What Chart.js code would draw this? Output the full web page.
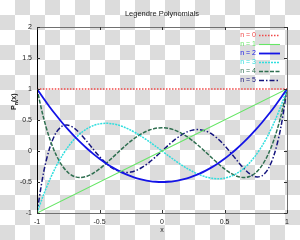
<!DOCTYPE html>
<html>
<head>
<meta charset="utf-8">
<script src="https://cdn.jsdelivr.net/npm/chart.js@4/dist/chart.umd.min.js"></script>
<style>
  html, body {
    margin: 0;
    padding: 0;
    width: 300px;
    height: 240px;
    overflow: hidden;
    background: repeating-conic-gradient(#dcdcdc 0 25%, #ffffff 0 50%) 0 0 / 30px 30px;
  }
  #chart { display: block; }
</style>
</head>
<body>
<canvas id="chart" width="300" height="240"></canvas>
<script>
// ---- data ----
const lineXs = [-1, 1];
const p0 = [1, 1];
const p1 = [-1, 1];

const curveXs = [
  -1, -0.95, -0.9, -0.85, -0.8, -0.75, -0.7, -0.65, -0.6, -0.55, -0.5,
  -0.45, -0.4, -0.35, -0.3, -0.25, -0.2, -0.15, -0.1, -0.05, 0,
  0.05, 0.1, 0.15, 0.2, 0.25, 0.3, 0.35, 0.4, 0.45, 0.5,
  0.55, 0.6, 0.65, 0.7, 0.75, 0.8, 0.85, 0.9, 0.95, 1
];
const p2 = [
  1, 0.854, 0.715, 0.584, 0.46, 0.344, 0.235, 0.134, 0.04, -0.046, -0.125,
  -0.196, -0.26, -0.316, -0.365, -0.406, -0.44, -0.466, -0.485, -0.496, -0.5,
  -0.496, -0.485, -0.466, -0.44, -0.406, -0.365, -0.316, -0.26, -0.196, -0.125,
  -0.046, 0.04, 0.134, 0.235, 0.344, 0.46, 0.584, 0.715, 0.854, 1
];
const p3 = [
  -1, -0.718, -0.473, -0.26, -0.08, 0.07, 0.193, 0.288, 0.36, 0.409, 0.438,
  0.447, 0.44, 0.418, 0.383, 0.336, 0.28, 0.217, 0.148, 0.075, 0,
  -0.075, -0.148, -0.217, -0.28, -0.336, -0.383, -0.418, -0.44, -0.447, -0.438,
  -0.409, -0.36, -0.288, -0.193, -0.07, 0.08, 0.26, 0.473, 0.718, 1
];
const p4 = [
  1, 0.554, 0.208, -0.051, -0.233, -0.35, -0.412, -0.428, -0.408, -0.359, -0.289,
  -0.205, -0.113, -0.019, 0.073, 0.158, 0.232, 0.293, 0.338, 0.366, 0.375,
  0.366, 0.338, 0.293, 0.232, 0.158, 0.073, -0.019, -0.113, -0.205, -0.289,
  -0.359, -0.408, -0.428, -0.412, -0.35, -0.233, -0.051, 0.208, 0.554, 1
];
const p5 = [
  -1, -0.373, 0.041, 0.286, 0.4, 0.416, 0.365, 0.27, 0.153, 0.028, -0.09,
  -0.192, -0.271, -0.322, -0.345, -0.34, -0.308, -0.252, -0.179, -0.093, 0,
  0.093, 0.179, 0.252, 0.308, 0.34, 0.345, 0.322, 0.271, 0.192, 0.09,
  -0.028, -0.153, -0.27, -0.365, -0.416, -0.4, -0.286, -0.041, 0.373, 1
];

const seriesLabels = ['n = 0', 'n = 1', 'n = 2', 'n = 3', 'n = 4', 'n = 5'];
const xTickValues = [-1, -0.5, 0, 0.5, 1];
const yTickValues = [-1, -0.5, 0, 0.5, 1, 1.5, 2];
const titleText = 'Legendre Polynomials';

const toPoints = (xs, ys) => xs.map((x, i) => ({ x, y: ys[i] }));

const styles = [
  { color: '#f04848', width: 1.3, dash: [1.5, 1.5] },
  { color: '#66e666', width: 1.1, dash: [] },
  { color: '#1414e6', width: 1.8, dash: [] },
  { color: '#30dede', width: 1.5, dash: [2, 1] },
  { color: '#2f6f50', width: 1.5, dash: [4, 1.5] },
  { color: '#14147e', width: 1.5, dash: [5, 2, 1.5, 2] }
];

const seriesData = [
  toPoints(lineXs, p0),
  toPoints(lineXs, p1),
  toPoints(curveXs, p2),
  toPoints(curveXs, p3),
  toPoints(curveXs, p4),
  toPoints(curveXs, p5)
];

const FONT = '"Liberation Sans", Arial, sans-serif';

// frame, inward ticks, legend, title, axis labels (gnuplot look)
const gnuplotDecor = {
  id: 'gnuplotDecor',
  afterDraw(chart) {
    const { ctx, chartArea: a, scales } = chart;
    ctx.save();

    // border
    ctx.lineWidth = 1;
    ctx.strokeStyle = '#707070';
    ctx.strokeRect(a.left + 0.5, a.top + 0.5, a.right - a.left, a.bottom - a.top);
    ctx.strokeStyle = '#000';
    ctx.beginPath();
    ctx.moveTo(a.left + 0.5, a.top);
    ctx.lineTo(a.left + 0.5, a.bottom + 1);
    ctx.stroke();

    // ticks pointing inward, mirrored
    ctx.strokeStyle = '#303030';
    ctx.beginPath();
    xTickValues.forEach((v) => {
      const px = Math.round(scales.x.getPixelForValue(v)) + 0.5;
      ctx.moveTo(px, a.bottom);
      ctx.lineTo(px, a.bottom - 3);
      ctx.moveTo(px, a.top);
      ctx.lineTo(px, a.top + 3);
    });
    yTickValues.forEach((v) => {
      const py = Math.round(scales.y.getPixelForValue(v)) + 0.5;
      ctx.moveTo(a.left, py);
      ctx.lineTo(a.left + 3, py);
      ctx.moveTo(a.right, py);
      ctx.lineTo(a.right - 3, py);
    });
    ctx.stroke();

    // legend
    ctx.font = '7px ' + FONT;
    ctx.textAlign = 'right';
    ctx.textBaseline = 'middle';
    chart.data.datasets.forEach((ds, i) => {
      const y = 35.5 + i * 9;
      ctx.fillStyle = ds.borderColor;
      ctx.fillText(ds.label, 256, y);
      ctx.strokeStyle = ds.borderColor;
      ctx.lineWidth = ds.borderWidth;
      ctx.setLineDash(ds.borderDash);
      ctx.beginPath();
      ctx.moveTo(259, y);
      ctx.lineTo(280, y);
      ctx.stroke();
    });
    ctx.setLineDash([]);

    // title
    ctx.fillStyle = '#222';
    ctx.textAlign = 'center';
    ctx.font = '7.5px ' + FONT;
    ctx.fillText(titleText, 162, 14);

    // x label
    ctx.font = '7px ' + FONT;
    ctx.fillText('x', 162, 230);

    // y label P_n(x)
    ctx.translate(14, 102);
    ctx.rotate(-Math.PI / 2);
    ctx.textAlign = 'left';
    ctx.font = 'bold 7px ' + FONT;
    ctx.fillText('P', -8, 0);
    ctx.font = 'bold 5px ' + FONT;
    ctx.fillText('n', -3, 2.5);
    ctx.font = 'bold 7px ' + FONT;
    ctx.fillText('(x)', 0, 0);

    ctx.restore();
  }
};

new Chart(document.getElementById('chart'), {
  type: 'line',
  data: {
    datasets: seriesData.map((pts, i) => ({
      label: seriesLabels[i],
      data: pts,
      borderColor: styles[i].color,
      borderWidth: styles[i].width,
      borderDash: styles[i].dash,
      pointRadius: 0,
      fill: false,
      tension: 0.3
    }))
  },
  options: {
    responsive: false,
    animation: false,
    devicePixelRatio: 1,
    layout: { padding: { left: 0, top: 27, right: 13, bottom: 0 } },
    plugins: {
      legend: { display: false },
      title: { display: false },
      tooltip: { enabled: false }
    },
    scales: {
      x: {
        type: 'linear',
        min: -1,
        max: 1,
        border: { display: false },
        grid: { display: false, drawTicks: false },
        afterFit: (s) => { s.height = 27; },
        afterBuildTicks: (s) => { s.ticks = xTickValues.map((v) => ({ value: v })); },
        ticks: {
          color: '#222',
          padding: 5,
          maxRotation: 0,
          font: { size: 7, family: FONT },
          callback: (v) => String(v)
        }
      },
      y: {
        type: 'linear',
        min: -1,
        max: 2,
        border: { display: false },
        grid: { display: false, drawTicks: false },
        afterFit: (s) => { s.width = 37; },
        afterBuildTicks: (s) => { s.ticks = yTickValues.map((v) => ({ value: v })); },
        ticks: {
          color: '#222',
          padding: 5,
          font: { size: 7, family: FONT },
          callback: (v) => String(v)
        }
      }
    }
  },
  plugins: [gnuplotDecor]
});
</script>
</body>
</html>
